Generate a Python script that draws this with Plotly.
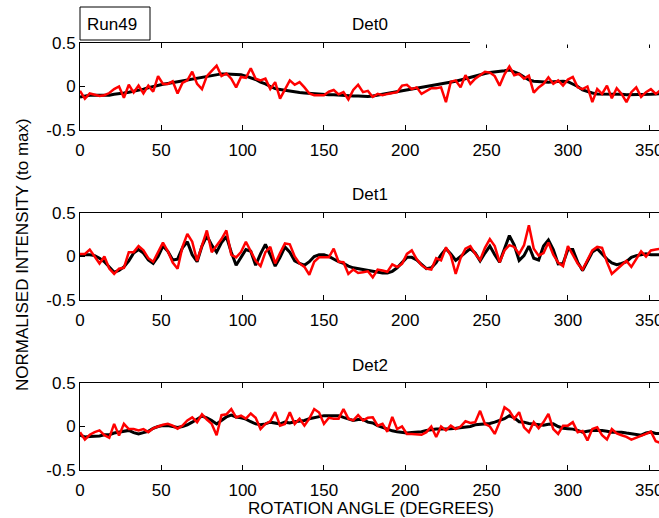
import plotly.graph_objects as go

# ---------------- data ----------------
angle = list(range(0, 361, 3))

det0_model = [
    -0.12, -0.11, -0.10, -0.10, -0.10, -0.10, -0.10, -0.09, -0.085, -0.075,
    -0.065, -0.055, -0.045, -0.03, -0.015, 0.0, 0.015, 0.025, 0.035, 0.045,
    0.06, 0.07, 0.08, 0.085, 0.095, 0.11, 0.12, 0.13, 0.14, 0.145,
    0.145, 0.14, 0.14, 0.135, 0.12, 0.10, 0.08, 0.05, 0.03, 0.0,
    -0.025, -0.035, -0.045, -0.055, -0.06, -0.07, -0.075, -0.08, -0.085, -0.09,
    -0.09, -0.095, -0.095, -0.10, -0.10, -0.105, -0.11, -0.11, -0.115, -0.115,
    -0.11, -0.10, -0.095, -0.085, -0.075, -0.065, -0.055, -0.045, -0.035, -0.025,
    -0.015, -0.005, 0.005, 0.015, 0.025, 0.035, 0.045, 0.06, 0.075, 0.09,
    0.105, 0.12, 0.14, 0.15, 0.16, 0.165, 0.17, 0.18, 0.19, 0.17,
    0.145, 0.11, 0.075, 0.06, 0.055, 0.05, 0.05, 0.055, 0.06, 0.06,
    0.055, 0.03, 0.0, -0.04, -0.06, -0.075, -0.085, -0.085, -0.085, -0.085,
    -0.09, -0.09, -0.095, -0.095, -0.095, -0.095, -0.095, -0.09, -0.085, -0.08,
    -0.08,
]
det0_meas = [
    -0.05, -0.14, -0.08, -0.095, -0.11, -0.1, -0.075, -0.03, 0.0, -0.13,
    0.02, -0.07, 0.01, -0.08, 0.01, -0.06, 0.12, 0.03, 0.03, 0.06,
    -0.08, 0.04, 0.07, 0.17, 0.03, -0.03, 0.12, 0.18, 0.24, 0.12,
    0.15, 0.09, -0.01, 0.11, 0.1, 0.21, 0.09, 0.07, 0.09, -0.03,
    0.05, -0.14, -0.04, 0.07, 0.02, 0.05, -0.01, -0.08, -0.1, -0.1,
    -0.1, -0.06, -0.04, -0.09, -0.065, -0.15, -0.04, 0.02, -0.065, -0.05,
    -0.12, -0.085, -0.1, -0.085, -0.075, -0.065, 0.01, 0.02, -0.03, -0.01,
    -0.085, -0.055, -0.02, -0.02, -0.01, -0.18, 0.055, 0.07, -0.01, 0.13,
    0.03, 0.09, 0.13, 0.17, 0.16, 0.12, 0.01, 0.14, 0.23, 0.13,
    0.145, 0.09, 0.125, -0.07, -0.01, 0.03, 0.105, 0.03, 0.07, 0.01,
    0.08, 0.11, -0.01, -0.03, 0.0, -0.18, -0.03, -0.085, 0.01, -0.135,
    -0.02, -0.085, -0.18, -0.065, -0.01, -0.12, -0.065, -0.03, -0.085, -0.04,
    -0.06,
]

det1_model = [
    0.01, 0.02, 0.02, 0.01, -0.02, -0.06, -0.12, -0.18, -0.16, -0.12,
    -0.05, 0.04, 0.08, 0.04, -0.04, -0.08, 0.0, 0.12, 0.06, -0.04,
    -0.03, 0.10, 0.17, 0.02, -0.06, 0.12, 0.24, 0.13, 0.05, 0.16,
    0.23, 0.05, -0.10, -0.01, 0.08, 0.06, -0.10, 0.03, 0.14, 0.02,
    -0.11, -0.01, 0.11, 0.05, -0.05, -0.08, -0.10, -0.06, 0.0, 0.02,
    0.02, 0.0, -0.03, -0.06, -0.08, -0.11, -0.13, -0.14, -0.15, -0.16,
    -0.17, -0.18, -0.19, -0.19, -0.17, -0.13, -0.065, -0.01, -0.01, -0.04,
    -0.09, -0.14, -0.13, -0.07, 0.02, 0.09, 0.03, -0.045, 0.0, 0.05,
    0.09, 0.04, -0.05, 0.04, 0.12, 0.02, -0.065, 0.09, 0.24, 0.13,
    -0.045, 0.01, 0.12, -0.02, -0.04, 0.12, 0.19, 0.08, -0.085, -0.08,
    0.08, 0.08, -0.065, -0.16, -0.06, 0.05, 0.09, 0.03, -0.03, -0.075,
    -0.095, -0.08, -0.06, -0.01, 0.01, 0.02, 0.03, 0.02, 0.02, 0.02,
    0.02,
]
det1_meas = [
    0.03, 0.03, 0.08, 0.0, -0.08, 0.0, -0.14, -0.2, -0.14, -0.13,
    0.05, 0.05, 0.12, 0.07, -0.02, -0.06, 0.06, 0.16, 0.06, -0.07,
    -0.14, 0.11, 0.26, 0.17, -0.05, 0.14, 0.3, 0.05, 0.12, 0.2,
    0.3, 0.02, -0.01, 0.05, 0.17, 0.06, -0.05, -0.11, 0.05, 0.11,
    -0.08, 0.04, 0.15, 0.14, 0.0, -0.08, -0.12, -0.21, -0.06, -0.01,
    -0.01, -0.01, 0.09, -0.06, -0.065, -0.2, -0.15, -0.19, -0.18, -0.17,
    -0.24, -0.15, -0.16, -0.175, -0.09, -0.12, -0.085, 0.03, 0.07, -0.03,
    -0.1, -0.14, -0.15, -0.02, -0.045, 0.105, 0.01, -0.2, -0.02, 0.09,
    0.12, 0.03, -0.04, 0.1, 0.2, 0.12, -0.065, 0.07, 0.13, 0.11,
    0.03, 0.13, 0.36, 0.09, 0.01, 0.04, 0.16, 0.02, -0.07, -0.11,
    0.12, 0.02, -0.08, -0.15, -0.04, 0.07, 0.11, 0.1, -0.065, -0.2,
    -0.15, -0.1, -0.05, -0.12, -0.03, 0.06, 0.0, 0.07, 0.08, 0.09,
    0.09,
]

det2_model = [
    -0.1, -0.12, -0.115, -0.11, -0.11, -0.095, -0.095, -0.075, -0.065, -0.05,
    -0.045, -0.07, -0.085, -0.07, -0.055, -0.02, 0.0, 0.01, 0.01, 0.0,
    -0.01, 0.0, 0.02, 0.05, 0.09, 0.12, 0.1, 0.07, 0.03, 0.07,
    0.11, 0.13, 0.11, 0.1, 0.085, 0.055, 0.03, 0.02, 0.03, 0.05,
    0.04, 0.03, 0.05, 0.04, 0.055, 0.065, 0.07, 0.09, 0.1, 0.11,
    0.125, 0.125, 0.125, 0.125, 0.105, 0.09, 0.07, 0.08, 0.08, 0.05,
    0.04, 0.01, -0.01, -0.03, -0.05, -0.06, -0.07, -0.075, -0.07, -0.065,
    -0.06, -0.045, -0.035, -0.03, -0.03, -0.03, -0.025, -0.02, -0.015, -0.01,
    0.0, 0.02, 0.025, 0.03, 0.035, 0.05, 0.07, 0.09, 0.125, 0.1,
    0.055, 0.05, 0.035, 0.03, 0.02, 0.015, 0.025, 0.03, 0.0, -0.02,
    -0.025, -0.03, -0.045, -0.065, -0.055, -0.045, -0.045, -0.045, -0.055, -0.065,
    -0.065, -0.065, -0.075, -0.085, -0.09, -0.1, -0.075, -0.065, -0.08, -0.085,
    -0.085,
]
det2_meas = [
    -0.065, -0.15, -0.095, -0.065, -0.045, -0.1, -0.13, 0.03, -0.105, 0.03,
    -0.03, -0.03, -0.045, -0.03, -0.065, -0.02, 0.0, 0.02, 0.03, 0.01,
    -0.025, 0.01, 0.07, 0.105, 0.05, 0.14, 0.08, 0.03, -0.1, 0.13,
    0.14, 0.2, 0.105, 0.125, 0.09, 0.15, 0.1, -0.03, 0.03, 0.06,
    0.165, 0.01, 0.03, 0.165, 0.03, 0.09, 0.01, 0.09, 0.2, 0.16,
    0.03, 0.1, 0.09, 0.09, 0.2, 0.09, 0.07, 0.13, 0.07, 0.1,
    0.105, 0.01, 0.03, -0.06, 0.11, -0.03, 0.0, -0.085, -0.085, -0.09,
    -0.095, -0.065, 0.0, -0.12, 0.0, -0.045, 0.01, -0.03, 0.0, 0.06,
    0.04, 0.05, 0.18, 0.03, 0.0, -0.085, 0.05, 0.22, 0.18, 0.09,
    0.165, -0.01, -0.065, 0.05, -0.02, 0.05, 0.145, -0.03, -0.085, 0.01,
    0.01, 0.05, -0.065, -0.05, -0.16, -0.03, -0.01, -0.1, -0.15, -0.03,
    -0.08, -0.1, -0.12, -0.15, -0.13, -0.11, -0.085, -0.06, -0.17, -0.19,
    -0.19,
]

panel_titles = ["Det0", "Det1", "Det2"]
x_tick_vals = [0, 50, 100, 150, 200, 250, 300, 350]
y_tick_vals = [-0.5, 0, 0.5]
y_tick_text = ["-0.5", "0", "0.5"]
legend_label = "Run49"
x_title = "ROTATION ANGLE (DEGREES)"
y_title = "NORMALISED INTENSITY (to max)"

# ---------------- figure ----------------
FONT = "Liberation Sans, Arial, sans-serif"
W, H = 659, 518
ML, MR, MT, MB = 80, 0, 43, 48
PW, PH = W - ML - MR, H - MT - MB


def px_x(px):
    return (px - ML) / PW


def px_y(py):
    return (H - MB - py) / PH


domains = [[px_y(130), px_y(43)], [px_y(300), px_y(213)], [px_y(470), px_y(383)]]
series = [(det0_model, det0_meas), (det1_model, det1_meas), (det2_model, det2_meas)]

fig = go.Figure()
for i, (model, meas) in enumerate(series):
    suffix = "" if i == 0 else str(i + 1)
    fig.add_trace(go.Scatter(x=angle, y=model, mode="lines",
                             line=dict(color="#000000", width=3),
                             xaxis="x" + suffix, yaxis="y" + suffix, showlegend=False))
    fig.add_trace(go.Scatter(x=angle, y=meas, mode="lines",
                             line=dict(color="#FF0000", width=2.5),
                             xaxis="x" + suffix, yaxis="y" + suffix, showlegend=False))

axis_font = dict(family=FONT, size=17, color="black")
layout = dict(
    width=W, height=H,
    margin=dict(l=ML, r=MR, t=MT, b=MB, autoexpand=False),
    paper_bgcolor="white", plot_bgcolor="white",
    showlegend=False,
    font=dict(family=FONT, size=17, color="black"),
)
for i in range(3):
    suffix = "" if i == 0 else str(i + 1)
    layout["xaxis" + suffix] = dict(
        domain=[0, 1], anchor="y" + suffix, range=[0, 356], automargin=False,
        tickvals=x_tick_vals, ticks="inside", ticklen=5, tickwidth=1, tickcolor="black",
        showline=True, linecolor="black", linewidth=1, mirror="ticks",
        showgrid=False, zeroline=False, tickfont=axis_font,
        ticklabeloverflow="allow", ticklabelstandoff=5,
    )
    layout["yaxis" + suffix] = dict(
        domain=domains[i], anchor="x" + suffix, range=[-0.5, 0.5], automargin=False,
        tickvals=y_tick_vals, ticktext=y_tick_text,
        ticks="inside", ticklen=5, tickwidth=1, tickcolor="black",
        showline=True, linecolor="black", linewidth=1, mirror=False,
        showgrid=False, zeroline=False, tickfont=axis_font,
        ticklabeloverflow="allow",
    )
fig.update_layout(**layout)

annotations = []
for i, t in enumerate(panel_titles):
    annotations.append(dict(text=t, x=0.5, y=px_y(25 + 170 * i), xref="paper", yref="paper",
                            xanchor="center", yanchor="middle", showarrow=False,
                            font=dict(family=FONT, size=17, color="black")))
annotations.append(dict(text=x_title, x=px_x(371), y=px_y(508), xref="paper", yref="paper",
                        xanchor="center", yanchor="middle", showarrow=False,
                        font=dict(family=FONT, size=17, color="black")))
annotations.append(dict(text=y_title, x=px_x(22), y=px_y(255), xref="paper", yref="paper",
                        xanchor="center", yanchor="middle", showarrow=False, textangle=-90,
                        font=dict(family=FONT, size=17, color="black")))
annotations.append(dict(text=legend_label, x=px_x(112), y=px_y(25), xref="paper", yref="paper",
                        xanchor="center", yanchor="middle", showarrow=False,
                        font=dict(family=FONT, size=17, color="black")))
fig.update_layout(annotations=annotations)

fig.update_layout(shapes=[
    # legend box
    dict(type="rect", xref="paper", yref="paper", x0=px_x(80), x1=px_x(150),
         y0=px_y(40), y1=px_y(7), line=dict(color="black", width=1), fillcolor="white",
         layer="above"),
    # part of the top frame of the first panel hidden in the reference
    dict(type="line", xref="paper", yref="paper", x0=px_x(470), x1=1.0,
         y0=px_y(43), y1=px_y(43), line=dict(color="white", width=3), layer="above"),
])

fig.write_html(
    "out.html",
    config={"displayModeBar": False},
    post_script="document.body.style.margin='0';document.body.style.padding='0';"
                "document.body.style.overflow='hidden';",
)
